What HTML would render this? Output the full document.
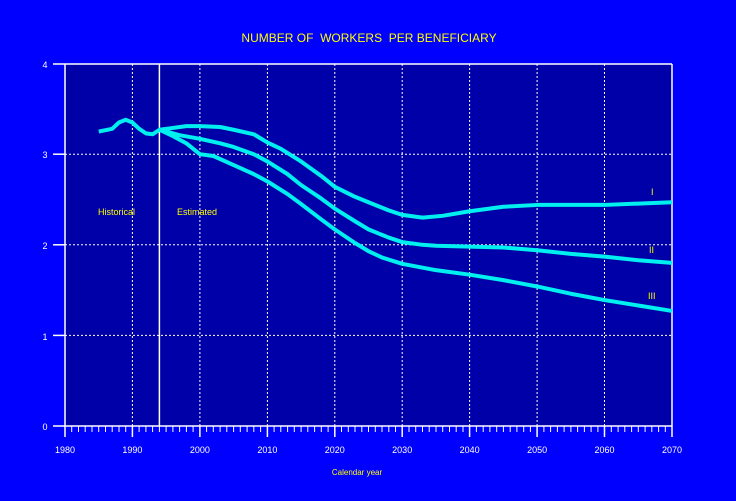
<!DOCTYPE html>
<html><head><meta charset="utf-8"><style>
html,body{margin:0;padding:0;background:#0000ff;}
svg{display:block;font-family:"Liberation Sans",sans-serif;}
</style></head><body>
<svg width="736" height="501" viewBox="0 0 736 501">
<rect width="736" height="501" fill="#0000ff"/>
<rect x="65" y="64" width="607" height="362" fill="#0000a8"/>
<g stroke="#fff" stroke-width="1" stroke-dasharray="2,2">
<line x1="132.4" y1="64" x2="132.4" y2="426"/>
<line x1="199.9" y1="64" x2="199.9" y2="426"/>
<line x1="267.4" y1="64" x2="267.4" y2="426"/>
<line x1="334.8" y1="64" x2="334.8" y2="426"/>
<line x1="402.2" y1="64" x2="402.2" y2="426"/>
<line x1="469.6" y1="64" x2="469.6" y2="426"/>
<line x1="537.1" y1="64" x2="537.1" y2="426"/>
<line x1="604.5" y1="64" x2="604.5" y2="426"/>
<line x1="65" y1="154.2" x2="672" y2="154.2"/>
<line x1="65" y1="244.8" x2="672" y2="244.8"/>
<line x1="65" y1="335.4" x2="672" y2="335.4"/>
</g>
<g stroke="#fff" stroke-width="1.5" fill="none">
<line x1="65" y1="64" x2="65" y2="437"/>
<line x1="672" y1="64" x2="672" y2="437"/>
<line x1="53" y1="64" x2="672" y2="64"/>
<line x1="53" y1="426" x2="672" y2="426"/>
<line x1="53" y1="154.2" x2="65" y2="154.2"/>
<line x1="53" y1="244.8" x2="65" y2="244.8"/>
<line x1="53" y1="335.4" x2="65" y2="335.4"/>
<line x1="159.4" y1="64" x2="159.4" y2="426"/>
<line x1="132.4" y1="426" x2="132.4" y2="437"/>
<line x1="199.9" y1="426" x2="199.9" y2="437"/>
<line x1="267.4" y1="426" x2="267.4" y2="437"/>
<line x1="334.8" y1="426" x2="334.8" y2="437"/>
<line x1="402.2" y1="426" x2="402.2" y2="437"/>
<line x1="469.6" y1="426" x2="469.6" y2="437"/>
<line x1="537.1" y1="426" x2="537.1" y2="437"/>
<line x1="604.5" y1="426" x2="604.5" y2="437"/>
</g>
<path stroke="#fff" stroke-width="1" d="
M71.7 426v6M78.5 426v6M85.2 426v6M92 426v6M98.7 426v6M105.5 426v6M112.2 426v6M119 426v6M125.7 426v6
M139.1 426v6M145.9 426v6M152.6 426v6M159.4 426v6M166.1 426v6M172.9 426v6M179.6 426v6M186.4 426v6M193.1 426v6
M206.6 426v6M213.3 426v6M220.1 426v6M226.8 426v6M233.6 426v6M240.3 426v6M247.1 426v6M253.8 426v6M260.6 426v6
M274.1 426v6M280.8 426v6M287.6 426v6M294.3 426v6M301.1 426v6M307.8 426v6M314.6 426v6M321.3 426v6M328.1 426v6
M341.5 426v6M348.3 426v6M355 426v6M361.8 426v6M368.5 426v6M375.3 426v6M382 426v6M388.8 426v6M395.5 426v6
M409 426v6M415.7 426v6M422.5 426v6M429.2 426v6M436 426v6M442.7 426v6M449.5 426v6M456.2 426v6M463 426v6
M476.4 426v6M483.2 426v6M489.9 426v6M496.7 426v6M503.4 426v6M510.2 426v6M516.9 426v6M523.7 426v6M530.4 426v6
M543.9 426v6M550.6 426v6M557.4 426v6M564.1 426v6M570.9 426v6M577.6 426v6M584.4 426v6M591.1 426v6M597.9 426v6
M611.3 426v6M618.1 426v6M624.8 426v6M631.6 426v6M638.3 426v6M645.1 426v6M651.8 426v6M658.6 426v6M665.3 426v6"/>
<g transform="translate(65,426) scale(6.744,-90.6) translate(-1980,0)" fill="none" stroke="#00f0f0" stroke-width="4" stroke-linejoin="round">
<polyline vector-effect="non-scaling-stroke" points="1985,3.25 1987,3.28 1988,3.35 1989,3.38 1990,3.35 1991,3.28 1992,3.23 1993,3.22 1994,3.27 1995,3.27"/>
<polyline vector-effect="non-scaling-stroke" points="1994,3.27 1996,3.29 1998,3.31 2000,3.31 2003,3.30 2005,3.27 2008,3.22 2010,3.13 2012,3.06 2015,2.92 2018,2.76 2020,2.64 2023,2.53 2025,2.47 2028,2.38 2030,2.33 2033,2.30 2036,2.32 2040,2.37 2045,2.42 2050,2.44 2060,2.44 2070,2.47"/>
<polyline vector-effect="non-scaling-stroke" points="1994,3.27 1997,3.21 2000,3.17 2003,3.12 2005,3.08 2008,3.00 2010,2.92 2013,2.78 2015,2.66 2018,2.51 2020,2.40 2023,2.26 2025,2.17 2028,2.08 2030,2.03 2033,2.00 2035,1.99 2040,1.98 2045,1.97 2050,1.94 2055,1.90 2060,1.87 2065,1.83 2070,1.80"/>
<polyline vector-effect="non-scaling-stroke" points="1994,3.27 1996,3.20 1998,3.12 2000,3.00 2002,2.98 2005,2.88 2008,2.78 2010,2.70 2013,2.56 2015,2.45 2018,2.28 2020,2.17 2023,2.02 2025,1.93 2027,1.86 2030,1.79 2035,1.72 2040,1.67 2045,1.61 2050,1.54 2055,1.46 2060,1.39 2065,1.33 2070,1.27"/>
</g>
<g fill="#fff" font-size="9" text-anchor="middle">
<text x="45" y="68">4</text><text x="45" y="158">3</text><text x="45" y="249">2</text><text x="45" y="340">1</text><text x="45" y="430">0</text>
<text x="65" y="453">1980</text><text x="132.4" y="453">1990</text><text x="199.9" y="453">2000</text><text x="267.4" y="453">2010</text><text x="334.8" y="453">2020</text><text x="402.2" y="453">2030</text><text x="469.6" y="453">2040</text><text x="537.1" y="453">2050</text><text x="604.5" y="453">2060</text><text x="672" y="453">2070</text>
</g>
<g fill="#ffff00">
<text x="369" y="42" font-size="12" text-anchor="middle">NUMBER OF &#160;WORKERS &#160;PER BENEFICIARY</text>
<text x="98" y="215" font-size="9">Historical</text>
<text x="177" y="215" font-size="9">Estimated</text>
<text x="651" y="195" font-size="9">I</text>
<text x="649" y="253" font-size="9">II</text>
<text x="648" y="299" font-size="9">III</text>
<text x="357" y="475" font-size="8" text-anchor="middle">Calendar year</text>
</g>
</svg>
</body></html>
